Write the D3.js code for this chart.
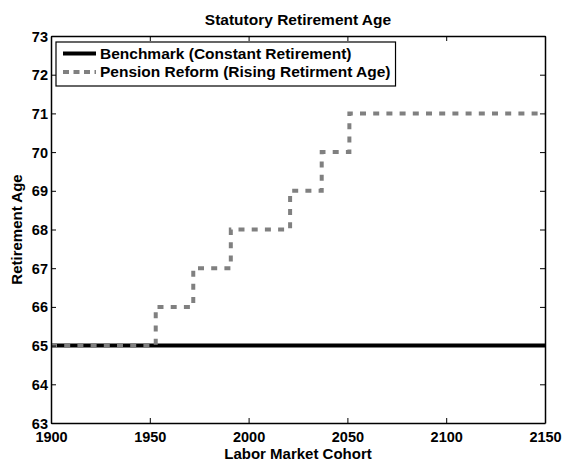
<!DOCTYPE html>
<html><head><meta charset="utf-8">
<script src="https://cdn.jsdelivr.net/npm/d3@7"></script>
<style>body{margin:0;background:#fff;} svg{display:block;font-family:"Liberation Sans",Arial,sans-serif;font-weight:bold;}</style>
</head><body><svg id="c" width="562" height="459"></svg>
<script>
const benchmarkYears = [1900, 2150];
const benchmarkAges = [65, 65];
const reformYears = [1900, 1953, 1972, 1991, 2021, 2037, 2051, 2150];
const reformAges = [65, 66, 67, 68, 69, 70, 71, 71];
const xTicks = [1900, 1950, 2000, 2050, 2100, 2150];
const yTicks = [63, 64, 65, 66, 67, 68, 69, 70, 71, 72, 73];
const seriesNames = ["Benchmark (Constant Retirement)", "Pension Reform (Rising Retirment Age)"];

const svg = d3.select("#c");
const L = 51, R = 545, T = 36, B = 423;
const x = d3.scaleLinear().domain([1900, 2150]).range([L, R]);
const y = d3.scaleLinear().domain([63, 73]).range([B, T]);

const bench = benchmarkYears.map((d, i) => ({x: d, y: benchmarkAges[i]}));
const reform = reformYears.map((d, i) => ({x: d, y: reformAges[i]}));

svg.append("clipPath").attr("id", "pc").append("rect")
  .attr("x", L).attr("y", T).attr("width", R - L).attr("height", B - T);

const g = svg.append("g").attr("clip-path", "url(#pc)");
g.append("path").datum(bench)
  .attr("d", d3.line().x(d => x(d.x)).y(d => y(d.y)))
  .attr("fill", "none").attr("stroke", "#000").attr("stroke-width", 4);
g.append("path").datum(reform)
  .attr("d", d3.line().x(d => x(d.x)).y(d => y(d.y)).curve(d3.curveStepAfter))
  .attr("fill", "none").attr("stroke", "#808080").attr("stroke-width", 4)
  .attr("stroke-dasharray", "6,7.2");

// axes
const ff = "'Liberation Sans',Arial,sans-serif";
const axB = svg.append("g").attr("transform", `translate(0,${B})`)
  .call(d3.axisBottom(x).tickValues(xTicks).tickFormat(d3.format("d")).tickSizeInner(-5).tickSizeOuter(0).tickPadding(0));
const axT = svg.append("g").attr("transform", `translate(0,${T})`)
  .call(d3.axisTop(x).tickValues(xTicks).tickFormat("").tickSizeInner(-5).tickSizeOuter(0));
const axL = svg.append("g").attr("transform", `translate(${L},0)`)
  .call(d3.axisLeft(y).tickValues(yTicks).tickFormat(d3.format("d")).tickSizeInner(-5).tickSizeOuter(0).tickPadding(3));
const axR = svg.append("g").attr("transform", `translate(${R},0)`)
  .call(d3.axisRight(y).tickValues(yTicks).tickFormat("").tickSizeInner(-5).tickSizeOuter(0));
[axB, axT, axL, axR].forEach(a => {
  a.select(".domain").attr("stroke", "#000").attr("stroke-width", 1.5);
  a.selectAll(".tick line").attr("stroke", "#000").attr("stroke-width", 1);
  a.selectAll("text").attr("font-size", "14.5px").attr("font-weight", "bold").attr("fill", "#000")
    .attr("font-family", ff);
});
axB.selectAll(".tick text").attr("y", 19).attr("dy", null);
axL.selectAll(".tick text").attr("dy", "0.35em");

// titles
svg.append("text").attr("x", (L + R) / 2).attr("y", 25).attr("text-anchor", "middle")
  .attr("font-size", "15.5px").text("Statutory Retirement Age");
svg.append("text").attr("x", (L + R) / 2).attr("y", 459).attr("text-anchor", "middle")
  .attr("font-size", "15px").text("Labor Market Cohort");
svg.append("text").attr("transform", `translate(22,${(T + B) / 2}) rotate(-90)`)
  .attr("text-anchor", "middle").attr("font-size", "15px").text("Retirement Age");

// legend
const lg = svg.append("g");
const lx = 56, ly = 42;
const items = [{name: seriesNames[0], color: "#000", dash: null}, {name: seriesNames[1], color: "#808080", dash: "6,4.5"}];
const texts = [];
items.forEach((it, i) => {
  const yy = ly + 11.5 + i * 18.5;
  lg.append("line").attr("x1", lx + 7).attr("x2", lx + 40).attr("y1", yy).attr("y2", yy)
    .attr("stroke", it.color).attr("stroke-width", 4).attr("stroke-dasharray", it.dash);
  texts.push(lg.append("text").attr("x", lx + 44).attr("y", yy).attr("dy", "0.35em")
    .attr("font-size", "15.5px").text(it.name));
});
const wmax = d3.max(texts, t => t.node().getComputedTextLength());
lg.insert("rect", ":first-child").attr("x", lx).attr("y", ly).attr("width", 44 + wmax + 5).attr("height", 44)
  .attr("fill", "#fff").attr("stroke", "#000").attr("stroke-width", 1.2);
</script></body></html>
